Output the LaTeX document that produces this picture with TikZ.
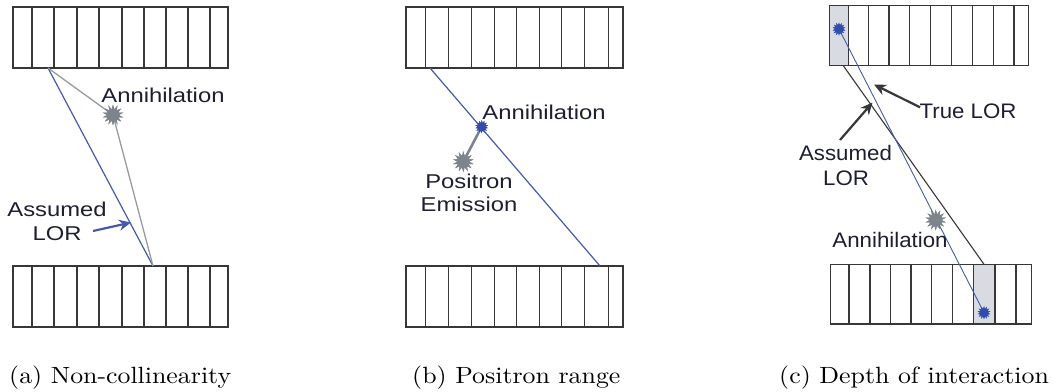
\documentclass[tikz,border=0pt]{standalone}
\usepackage{fontspec}
\newfontfamily\lsans{Liberation Sans}
\newfontfamily\lmten[Extension=.otf]{lmroman10-regular}
\usetikzlibrary{shapes.geometric,arrows.meta}
\definecolor{txtc}{RGB}{30,30,50}
\definecolor{lorblue}{RGB}{70,90,170}
\definecolor{raygray}{RGB}{150,155,160}
\definecolor{stargray}{RGB}{125,132,140}
\definecolor{starblue}{RGB}{50,75,175}
\definecolor{detc}{RGB}{55,55,55}
\definecolor{cellfill}{RGB}{216,219,226}
\tikzset{
  det/.style={draw=detc, line width=1.1pt},
  lblA/.style={font=\lsans\fontsize{20}{22}\selectfont, text=txtc, inner sep=0pt, xscale=1.19, anchor=base},
  lblC/.style={font=\lsans\fontsize{21}{23}\selectfont, text=txtc, inner sep=0pt, xscale=1.06, anchor=base},
  gstar/.style={star, star points=14, star point ratio=1.8, fill=stargray, draw=none, minimum size=21pt, inner sep=0pt},
  bstar/.style={star, star points=14, star point ratio=1.7, fill=starblue, draw=none, minimum size=13pt, inner sep=0pt},
  capt/.style={font=\lmten\fontsize{23.5}{28}\selectfont, anchor=base west, inner sep=0pt, xscale=1.1},
  lor/.style={draw=lorblue, line width=1.2pt},
  ray/.style={draw=raygray, line width=1.3pt},
  blk/.style={draw=detc, line width=1.1pt},
  ptr/.style={line width=2.2pt, -{Stealth[length=12pt,width=11pt]}}
}
\begin{document}
\begin{tikzpicture}[x=1pt,y=-1pt]
\useasboundingbox (0,0) rectangle (1054,391);

% ---------- (a) ----------
\draw[det] (13,7) rectangle (228,68);
\draw[det] (13,266) rectangle (228,327);
\foreach \x in {32,54,77,99,122,144,166,188,210}{
  \draw[det] (\x,7) -- (\x,68);
  \draw[det] (\x,266) -- (\x,327);
}
\coordinate (a1) at (48,68);
\coordinate (a2) at (153,266);
\node[gstar] (aS) at (113,115) {};
\draw[lor] (a1) -- (a2);
\draw[ray] (a1) -- (aS.center) -- (a2);
\node[gstar] at (aS.center) {};
\node[lblA] (aAnn) at (163,102.7) {Annihilation};
\node[lblA] (aAss) at (57,216) {Assumed};
\node[lblA] (aLOR) at (57,240) {LOR};
\coordinate (aArrT) at (93,231);
\coordinate (aArrH) at (131,222.5);
\draw[ptr, lorblue] (aArrT) -- (aArrH);
\node[capt] (capa) at (9,383) {(a) Non-collinearity};

% ---------- (b) ----------
\draw[det] (406,7) rectangle (623,68);
\draw[det] (406,266) rectangle (623,327);
\foreach \x in {425.7,448.3,471.7,494.3,516.7,539.3,561.7,584.3,608.3}{
  \draw[det] (\x,7) -- (\x,68);
  \draw[det] (\x,266) -- (\x,327);
}
\coordinate (b1) at (430,68);
\coordinate (b2) at (600,266);
\draw[lor] (b1) -- (b2);
\node[gstar] (bG) at (463.3,161.7) {};
\node[bstar] (bB) at (481.7,126.7) {};
\draw[draw=stargray, line width=2.6pt] (bG.center) -- (bB.center);
\node[gstar] at (bG.center) {};
\node[bstar] at (bB.center) {};
\node[lblA] (bAnn) at (544,119) {Annihilation};
\node[lblA] (bPos) at (469,188.3) {Positron};
\node[lblA] (bEm) at (469,211.7) {Emission};
\node[capt] (capb) at (412,383) {(b) Positron range};

% ---------- (c) ----------
\fill[cellfill] (829.3,5.7) rectangle (848.3,65.7);
\fill[cellfill] (973.3,264.3) rectangle (995,324);
\draw[det] (829.3,5.7) rectangle (1028.3,65.7);
\draw[det] (830.7,264.3) rectangle (1031.7,324);
\foreach \x in {848.3,868.3,889,909.3,930.7,951.7,972.7,993.3,1014}{
  \draw[det] (\x,5.7) -- (\x,65.7);
}
\foreach \x in {849,870,890.7,911,931.7,952.7,973.3,995,1016}{
  \draw[det] (\x,264.3) -- (\x,324);
}
\coordinate (c1) at (843.3,65.7);
\coordinate (c2) at (984,264.3);
\node[bstar] (cT) at (839,29) {};
\node[bstar] (cB) at (984,312.7) {};
\node[gstar] (cS) at (935.7,220) {};
\draw[blk] (c1) -- (c2);
\draw[draw=lorblue, line width=0.9pt] (cT.center) -- (cB.center);
\node[gstar] at (cS.center) {};
\node[bstar] at (cT.center) {};
\node[bstar] at (cB.center) {};
\node[lblC] (cTrue) at (968,118.3) {True LOR};
\node[lblC] (cAss) at (845.5,160.7) {Assumed};
\node[lblC] (cLOR) at (846,185.7) {LOR};
\node[lblC] (cAnn) at (890,247.3) {Annihilation};
\coordinate (cTT) at (920,107.3);
\coordinate (cTH) at (874,84.5);
\coordinate (cAT) at (840,140);
\coordinate (cAH) at (872.5,102.5);
\draw[ptr, detc] (cTT) -- (cTH);
\draw[ptr, detc] (cAT) -- (cAH);
\node[capt] (capc) at (779,383) {(c) Depth of interaction};
\end{tikzpicture}
\end{document}
